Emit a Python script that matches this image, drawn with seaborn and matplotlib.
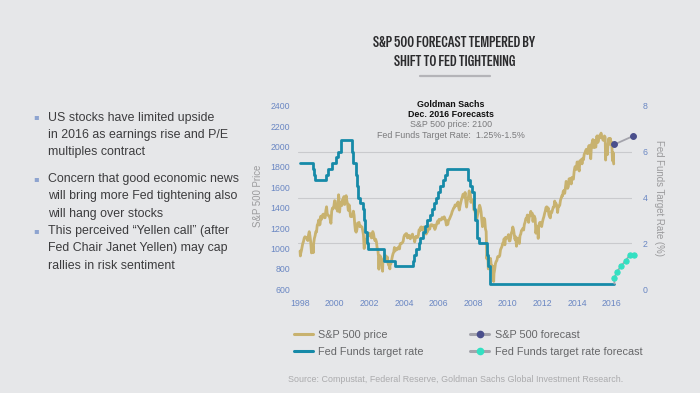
import numpy as np
import pandas as pd
import matplotlib
matplotlib.use("Agg")
import matplotlib.pyplot as plt
import seaborn as sns
from matplotlib.lines import Line2D
from matplotlib.patches import Rectangle

# ---------------------------------------------------------------------------
# data
# ---------------------------------------------------------------------------
# S&P 500 month-end level, Jan 1998 .. Jan 2016
sp_month_close = [
    980, 1049, 1102, 1112, 1091, 1134, 1121, 957, 1017, 1099, 1164, 1229,      # 1998
    1280, 1238, 1286, 1335, 1302, 1373, 1329, 1320, 1283, 1363, 1389, 1469,    # 1999
    1394, 1366, 1499, 1452, 1421, 1455, 1431, 1518, 1437, 1429, 1315, 1320,    # 2000
    1366, 1240, 1160, 1249, 1256, 1224, 1211, 1134, 1041, 1060, 1139, 1148,    # 2001
    1130, 1107, 1147, 1077, 1067, 990, 912, 916, 815, 886, 936, 880,           # 2002
    856, 841, 848, 917, 964, 975, 990, 1008, 996, 1051, 1058, 1112,            # 2003
    1131, 1145, 1126, 1107, 1121, 1141, 1102, 1104, 1115, 1130, 1174, 1212,    # 2004
    1181, 1204, 1181, 1157, 1192, 1191, 1234, 1220, 1229, 1207, 1250, 1248,    # 2005
    1280, 1281, 1295, 1311, 1270, 1270, 1277, 1304, 1336, 1378, 1401, 1418,    # 2006
    1438, 1407, 1421, 1482, 1531, 1503, 1455, 1474, 1527, 1549, 1481, 1468,    # 2007
    1379, 1331, 1323, 1386, 1400, 1280, 1267, 1283, 1166, 969, 896, 903,       # 2008
    826, 735, 798, 873, 919, 919, 988, 1021, 1057, 1036, 1096, 1115,           # 2009
    1074, 1105, 1169, 1187, 1089, 1031, 1102, 1049, 1141, 1183, 1181, 1258,    # 2010
    1286, 1327, 1326, 1364, 1345, 1321, 1292, 1219, 1131, 1253, 1247, 1258,    # 2011
    1312, 1366, 1409, 1398, 1310, 1362, 1379, 1407, 1441, 1412, 1416, 1426,    # 2012
    1498, 1515, 1569, 1598, 1631, 1606, 1686, 1633, 1682, 1757, 1806, 1848,    # 2013
    1783, 1860, 1872, 1884, 1924, 1960, 1931, 2003, 1972, 2018, 2068, 2059,    # 2014
    1995, 2105, 2068, 2086, 2107, 2063, 2104, 1972, 1920, 2079, 2080, 2044,    # 2015
    1940,                                                                      # 2016
]
# S&P 500 mid-month level (gives the line its weekly jaggedness)
sp_mid_month = [
    950, 1020, 1068, 1115, 1108, 1078, 1165, 1062, 1029, 1047, 1125, 1162,     # 1998
    1243, 1230, 1316, 1322, 1337, 1301, 1409, 1327, 1318, 1247, 1396, 1413,    # 1999
    1465, 1402, 1392, 1357, 1452, 1479, 1509, 1484, 1465, 1374, 1382, 1312,    # 2000
    1318, 1326, 1173, 1183, 1249, 1214, 1215, 1178, 1000, 1090, 1142, 1123,    # 2001
    1147, 1104, 1166, 1102, 1091, 1007, 918, 930, 889, 881, 909, 890,          # 2002
    918, 834, 862, 885, 946, 1010, 1000, 990, 1015, 1046, 1050, 1068,          # 2003
    1132, 1146, 1104, 1129, 1095, 1132, 1107, 1064, 1120, 1108, 1183, 1205,    # 2004
    1184, 1210, 1197, 1142, 1165, 1207, 1228, 1233, 1227, 1187, 1231, 1270,    # 2005
    1287, 1281, 1303, 1290, 1294, 1230, 1236, 1285, 1320, 1362, 1397, 1427,    # 2006
    1430, 1456, 1377, 1452, 1501, 1533, 1549, 1406, 1484, 1548, 1452, 1467,    # 2007
    1380, 1349, 1288, 1351, 1424, 1360, 1214, 1298, 1193, 899, 800, 868,       # 2008
    843, 827, 753, 852, 882, 924, 932, 1005, 1052, 1096, 1110, 1108,           # 2009
    1136, 1075, 1150, 1211, 1136, 1115, 1096, 1079, 1126, 1176, 1198, 1236,    # 2010
    1293, 1328, 1256, 1320, 1329, 1265, 1316, 1150, 1209, 1224, 1257, 1215,    # 2011
    1289, 1344, 1402, 1370, 1331, 1300, 1353, 1405, 1465, 1440, 1353, 1413,    # 2012
    1472, 1519, 1561, 1541, 1658, 1590, 1682, 1661, 1697, 1680, 1798, 1775,    # 2013
    1848, 1760, 1841, 1830, 1870, 1937, 1973, 1930, 2011, 1880, 2039, 1990,    # 2014
    1992, 2096, 2040, 2106, 2123, 2085, 2060, 2092, 1960, 2023, 2023, 2022,    # 2015
    1880,                                                                      # 2016
]
# intramonth highs / lows visible as spikes on the line
sp_extra_dates = ["1998-01-02", "1998-01-09", "1998-10-08", "2000-03-24", "2002-07-23",
                  "2002-10-09", "2003-03-11", "2007-10-09", "2009-03-09", "2010-07-02",
                  "2011-10-03", "2015-05-21", "2015-08-25", "2016-01-20", "2016-02-11"]
sp_extra_vals = [975, 927, 959, 1527, 797, 777, 800, 1565, 677, 1022,
                 1099, 2131, 1867, 1859, 1829]

# Fed funds target rate, dates of each change
fed_dates = ["1998-01-01", "1998-09-29", "1998-10-15", "1998-11-17", "1999-06-30", "1999-08-24",
             "1999-11-16", "2000-02-02", "2000-03-21", "2000-05-16", "2001-01-03", "2001-01-31",
             "2001-03-20", "2001-04-18", "2001-05-15", "2001-06-27", "2001-08-21", "2001-09-17",
             "2001-10-02", "2001-11-06", "2001-12-11", "2002-11-06", "2003-06-25", "2004-06-30",
             "2004-08-10", "2004-09-21", "2004-11-10", "2004-12-14", "2005-02-02", "2005-03-22",
             "2005-05-03", "2005-06-30", "2005-08-09", "2005-09-20", "2005-11-01", "2005-12-13",
             "2006-01-31", "2006-03-28", "2006-05-10", "2006-06-29", "2007-09-18", "2007-10-31",
             "2007-12-11", "2008-01-22", "2008-01-30", "2008-03-18", "2008-04-30", "2008-10-08",
             "2008-10-29", "2008-12-16", "2016-02-25"]
fed_rates = [5.5, 5.25, 5.0, 4.75, 5.0, 5.25, 5.5, 5.75, 6.0, 6.5, 6.0, 5.5,
             5.0, 4.5, 4.0, 3.75, 3.5, 3.0, 2.5, 2.0, 1.75, 1.25, 1.0, 1.25,
             1.5, 1.75, 2.0, 2.25, 2.5, 2.75, 3.0, 3.25, 3.5, 3.75, 4.0, 4.25,
             4.5, 4.75, 5.0, 5.25, 4.75, 4.5, 4.25, 3.5, 3.0, 2.25, 2.0, 1.5,
             1.0, 0.25, 0.25]

# Goldman Sachs forecasts (decimal years)
sp_fc_year = [2016.15, 2017.2]
sp_fc_level = [2020, 2100]
fed_fc_year = [2016.15, 2016.15, 2016.29, 2016.52, 2016.81, 2017.04, 2017.29]
fed_fc_rate = [0.25, 0.5, 0.75, 1.0, 1.25, 1.5, 1.5]

price_ticks = [600, 800, 1000, 1200, 1400, 1600, 1800, 2000, 2200, 2400]
rate_ticks = [0, 2, 4, 6, 8]
year_ticks = [1998, 2000, 2002, 2004, 2006, 2008, 2010, 2012, 2014, 2016]

bullets = [
    ["US stocks have limited upside", "in 2016 as earnings rise and P/E", "multiples contract"],
    ["Concern that good economic news", "will bring more Fed tightening also", "will hang over stocks"],
    ["This perceived \u201cYellen call\u201d (after", "Fed Chair Janet Yellen) may cap", "rallies in risk sentiment"],
]

# ---------------------------------------------------------------------------
BG = "#e6e7e9"
GOLD = "#c8b26f"
TEAL = "#168aa8"
GREY_LINE = "#a4a4ac"
NAVY = "#4a4f8c"
AQUA = "#33e0c2"
TICK_BLUE = "#6a87c3"

sns.set_theme(style="white")
plt.rcParams["font.family"] = ["Liberation Sans", "DejaVu Sans"]


def to_year(dates):
    d = pd.to_datetime(pd.Series(dates))
    return (d.dt.year + (d.dt.dayofyear - 1) / 365.25).to_numpy()


sp = pd.concat([
    pd.DataFrame({"year": to_year(pd.date_range("1998-01-31", periods=len(sp_month_close), freq="ME")),
                  "level": sp_month_close}),
    pd.DataFrame({"year": to_year(pd.date_range("1998-01-01", periods=len(sp_mid_month), freq="MS")
                                  + pd.Timedelta(days=14)),
                  "level": sp_mid_month}),
    pd.DataFrame({"year": to_year(sp_extra_dates), "level": sp_extra_vals}),
]).sort_values("year")
fed = pd.DataFrame({"year": to_year(fed_dates), "rate": fed_rates})

W, H = 700, 393
fig = plt.figure(figsize=(7, 3.93), dpi=100, facecolor=BG)
L, R, T, B = 298, 632, 105.7, 289.3
pad_px = 1.0  # a hair of room so the outer gridlines are not clipped
ax = fig.add_axes([L / W, 1 - (B + pad_px) / H, (R - L) / W, (B - T + 2 * pad_px) / H])
ax.set_facecolor(BG)
ax2 = ax.twinx()

sns.lineplot(data=sp, x="year", y="level", ax=ax, color=GOLD, lw=2.0, estimator=None)
sns.lineplot(data=fed, x="year", y="rate", ax=ax2, color=TEAL, lw=2.0, estimator=None,
             drawstyle="steps-post")
sns.lineplot(x=sp_fc_year, y=sp_fc_level, ax=ax, color=GREY_LINE, lw=1.3, estimator=None,
             marker="o", markersize=4.2, markerfacecolor=NAVY, markeredgecolor=NAVY, clip_on=False)
sns.lineplot(x=fed_fc_year, y=fed_fc_rate, ax=ax2, color=GREY_LINE, lw=1.3, estimator=None,
             sort=False, marker="o", markersize=3.8, markerfacecolor=AQUA, markeredgecolor=AQUA,
             markevery=list(range(1, len(fed_fc_year))), clip_on=False)

x_left = 1998 - 2 / 17.32
x_right = 1998 + (R - 300) / 17.32
ax.set_xlim(x_left, x_right)
p_per_px = (price_ticks[-1] - price_ticks[0]) / (B - T)
r_per_px = (rate_ticks[-1] - rate_ticks[0]) / (B - T)
ax.set_ylim(price_ticks[0] - pad_px * p_per_px, price_ticks[-1] + pad_px * p_per_px)
ax2.set_ylim(rate_ticks[0] - pad_px * r_per_px, rate_ticks[-1] + pad_px * r_per_px)
ax.set_xticks(year_ticks)
ax.set_yticks(price_ticks)
ax2.set_yticks(rate_ticks)
# gridlines follow the right-hand (rate) axis
scale = (price_ticks[-1] - price_ticks[0]) / (rate_ticks[-1] - rate_ticks[0])
ax.set_yticks([price_ticks[0] + r * scale for r in rate_ticks], minor=True)
ax.grid(False)
ax2.grid(False)
ax.grid(which="minor", axis="y", color="#c9cacd", lw=0.8)
ax.tick_params(which="both", length=0, labelsize=6.3, colors=TICK_BLUE)
ax.tick_params(axis="y", pad=5.8)
ax.tick_params(axis="x", pad=6.5)
ax2.tick_params(length=0, labelsize=6.3, colors=TICK_BLUE, pad=7.5)
ax.set_xlabel("")
ax.set_ylabel("")
ax2.set_ylabel("")
for a in (ax, ax2):
    for s in a.spines.values():
        s.set_visible(False)

fig.text(258 / W, 1 - 196 / H, "S&P 500 Price", rotation=90, ha="center", va="center",
         fontsize=6.9, color="#9a9a9c")
fig.text(659 / W, 1 - 197.5 / H, "Fed Funds Target Rate (%)", rotation=270, ha="center",
         va="center", fontsize=6.9, color="#9a9a9c")

# annotation block
fig.add_artist(Rectangle((406 / W, 1 - 111 / H), 96 / W, 10 / H, transform=fig.transFigure,
                         facecolor=BG, edgecolor="none", zorder=2))
ann = [("Goldman Sachs", 104.3, "bold", "#111111"),
       ("Dec. 2016 Forecasts", 114.7, "bold", "#111111"),
       ("S&P 500 price: 2100", 124.7, "normal", "#7a7a7c"),
       ("Fed Funds Target Rate:  1.25%-1.5%", 135.7, "normal", "#7a7a7c")]
for txt, y, w, c in ann:
    fig.text(450.7 / W, 1 - y / H, txt, ha="center", va="center", fontsize=6.4,
             fontweight=w, color=c, zorder=3)

# title
title_font = ["Special Gothic Condensed One", "Sofia Sans Extra Condensed", "Liberation Sans"]
fig.text(454.5 / W, 1 - 43.3 / H, "S&P 500 FORECAST TEMPERED BY", ha="center", va="center",
         fontsize=10.6, family=title_font, color="#2b2b2d")
fig.text(454.5 / W, 1 - 61.7 / H, "SHIFT TO FED TIGHTENING", ha="center", va="center",
         fontsize=10.6, family=title_font, color="#2b2b2d")
fig.add_artist(Line2D([420 / W, 490 / W], [1 - 75.7 / H] * 2, color="#b4b4b8", lw=1.6))

# left bullets
first_base = [120.5, 182, 234]
for lines, y0 in zip(bullets, first_base):
    fig.text(36 / W, 1 - (y0 - 1) / H, "\u25aa", ha="center", va="baseline", fontsize=6,
             family=["DejaVu Sans"], color="#8ea4d0")
    for i, line in enumerate(lines):
        fig.text(47.7 / W, 1 - (y0 + i * 17.5) / H, line, ha="left", va="baseline",
                 fontsize=8.9, color="#3c3c3e")

# legend
handles = [
    Line2D([], [], color=GOLD, lw=2.2),
    Line2D([], [], color=TEAL, lw=2.2),
    Line2D([], [], color=GREY_LINE, lw=2.2, marker="o", markersize=4.5, markerfacecolor=NAVY,
           markeredgecolor=NAVY),
    Line2D([], [], color=GREY_LINE, lw=2.2, marker="o", markersize=4.5, markerfacecolor=AQUA,
           markeredgecolor=AQUA),
]
labels = ["S&P 500 price", "Fed Funds target rate", "S&P 500 forecast", "Fed Funds target rate forecast"]
leg = fig.legend(handles, labels, loc="upper left", bbox_to_anchor=(294 / W, 1 - 330 / H),
                 ncol=2, frameon=False, fontsize=7.8, handlelength=1.75, handletextpad=0.5,
                 columnspacing=4.3, labelspacing=0.65, borderpad=0, borderaxespad=0)
for t in leg.get_texts():
    t.set_color("#666668")

fig.text(288 / W, 1 - 380 / H,
         "Source: Compustat, Federal Reserve, Goldman Sachs Global Investment Research.",
         ha="left", va="center", fontsize=6.4, color="#ababad")

fig.savefig("out.png", dpi=100, facecolor=BG)
